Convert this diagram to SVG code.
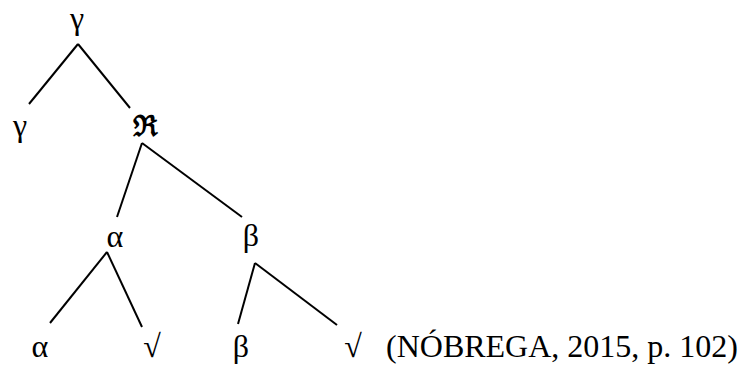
<svg xmlns="http://www.w3.org/2000/svg" width="743" height="366" viewBox="0 0 743 366">
<style>
text{font-family:"Liberation Serif","DejaVu Serif",serif;font-size:32px;fill:#000;text-anchor:middle}
.c{text-anchor:start}
.r{font-family:"DejaVu Serif","Liberation Serif",serif;font-weight:bold;font-size:29px}
line{stroke:#000;stroke-width:2;stroke-linecap:butt}
</style>
<rect width="743" height="366" fill="#fff"/>
<g id="connectors">
<line x1="78" y1="44" x2="29" y2="104"/>
<line x1="78" y1="44" x2="130" y2="108"/>
<line x1="142" y1="143" x2="117" y2="217"/>
<line x1="142" y1="143" x2="242" y2="217"/>
<line x1="107" y1="252" x2="50" y2="323"/>
<line x1="107" y1="252" x2="142" y2="327"/>
<line x1="255" y1="263" x2="238" y2="324"/>
<line x1="255" y1="263" x2="337" y2="325"/>
</g>
<g id="n-gamma-top"><text x="77" y="29">γ</text></g>
<g id="n-gamma-left"><text x="20" y="136">γ</text></g>
<g id="n-R"><text class="r" x="145" y="136">ℜ</text></g>
<g id="n-alpha-mid"><text x="115" y="247">α</text></g>
<g id="n-beta-mid"><text x="251" y="246">β</text></g>
<g id="n-alpha-bot"><text x="40" y="357">α</text></g>
<g id="n-root-1"><text x="152" y="357">√</text></g>
<g id="n-beta-bot"><text x="241" y="357">β</text></g>
<g id="n-root-2"><text x="353" y="357">√</text></g>
<g id="citation"><text class="c" x="386" y="357">(NÓBREGA, 2015, p. 102)</text></g>
</svg>
